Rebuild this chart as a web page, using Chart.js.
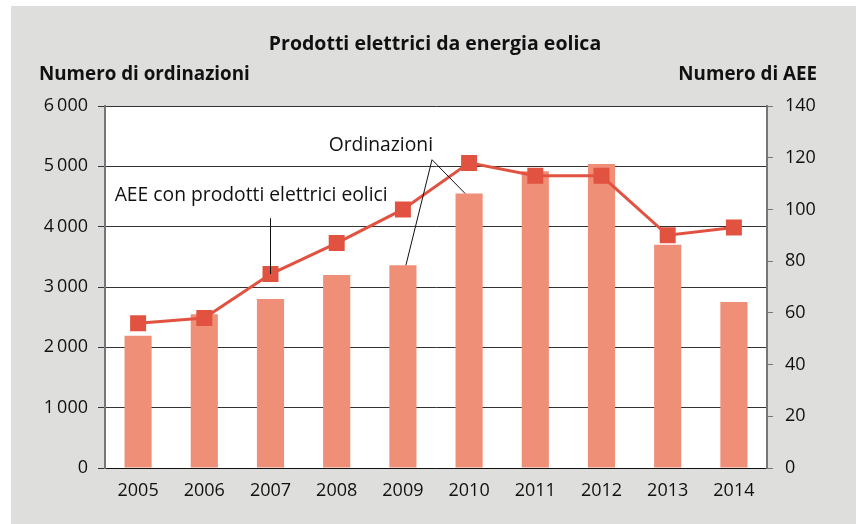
<!DOCTYPE html>
<html><head><meta charset="utf-8">
<script src="https://cdn.jsdelivr.net/npm/chart.js@4/dist/chart.umd.min.js"></script>
<style>html,body{margin:0;padding:0;background:#fff}#w{width:856px;height:524px}</style>
</head><body><div id="w"><canvas id="c" width="856" height="524"></canvas></div>
<script>
const years = ['2005','2006','2007','2008','2009','2010','2011','2012','2013','2014'];
const ordinazioni = [2190, 2550, 2800, 3200, 3360, 4550, 4920, 5040, 3700, 2750];
const aee = [56, 58, 75, 87, 100, 118, 113, 113, 90, 93];
const leftTicks = ['0', '1\u2009000', '2\u2009000', '3\u2009000', '4\u2009000', '5\u2009000', '6\u2009000'];
const rightTicks = ['0', '20', '40', '60', '80', '100', '120', '140'];
const titleText = 'Prodotti elettrici da energia eolica';
const leftAxisTitle = 'Numero di ordinazioni';
const rightAxisTitle = 'Numero di AEE';
const labelOrd = 'Ordinazioni';
const labelAee = 'AEE con prodotti elettrici eolici';

const FONT = '"Open Sans", sans-serif';
const BAR = '#F08F78';
const LINE = '#E25241';

const decor = {
  id: 'decor',
  beforeDraw(chart) {
    const ctx = chart.ctx, a = chart.chartArea;
    ctx.save();
    ctx.fillStyle = '#fff';
    ctx.fillRect(0, 0, chart.width, chart.height);
    ctx.fillStyle = '#DEDEDD';
    ctx.fillRect(11, 6, chart.width - 11, chart.height - 6);
    ctx.fillStyle = '#fff';
    ctx.fillRect(a.left, a.top, a.right - a.left, a.bottom - a.top);
    ctx.restore();
  },
  afterDraw(chart) {
    const ctx = chart.ctx, a = chart.chartArea;
    const x = chart.scales.x, y = chart.scales.y, y2 = chart.scales.y2;
    ctx.save();
    ctx.fillStyle = '#111';
    ctx.textBaseline = 'middle';
    ctx.font = 'bold 19.5px ' + FONT;
    ctx.textAlign = 'center';
    ctx.fillText(titleText, (a.left + a.right) / 2 - 1, 44);
    ctx.font = 'bold 18.8px ' + FONT;
    ctx.textAlign = 'left';
    ctx.fillText(leftAxisTitle, 39, 75);
    ctx.textAlign = 'right';
    ctx.fillText(rightAxisTitle, 817, 75);

    // annotations
    ctx.font = '19.3px ' + FONT;
    ctx.textAlign = 'right';
    ctx.fillText(labelOrd, x.getPixelForValue(4.5) - 3, y.getPixelForValue(5350));
    ctx.fillText(labelAee, x.getPixelForValue(3.8) - 2, y.getPixelForValue(4520));
    ctx.strokeStyle = '#111';
    ctx.lineWidth = 1;
    const jx = x.getPixelForValue(4.44), jy = y.getPixelForValue(5110);
    ctx.beginPath();
    ctx.moveTo(x.getPixelForValue(4) + 3, y.getPixelForValue(ordinazioni[4]));
    ctx.lineTo(jx, jy);
    ctx.lineTo(x.getPixelForValue(5) - 4, y.getPixelForValue(ordinazioni[5]));
    ctx.stroke();
    const ax = x.getPixelForValue(2);
    ctx.beginPath();
    ctx.moveTo(ax, y.getPixelForValue(4140));
    ctx.lineTo(ax, y2.getPixelForValue(aee[2]));
    ctx.stroke();
    ctx.restore();
  }
};

new Chart(document.getElementById('c'), {
  data: {
    labels: years,
    datasets: [
      {
        type: 'line', label: 'AEE', data: aee, yAxisID: 'y2', order: 0,
        borderColor: LINE, backgroundColor: LINE, borderWidth: 3,
        pointStyle: 'rect', pointRadius: 11.3, pointHoverRadius: 11.3,
        pointBorderWidth: 0, tension: 0
      },
      {
        type: 'bar', label: 'Ordinazioni', data: ordinazioni, yAxisID: 'y', order: 1,
        backgroundColor: BAR, borderWidth: 0,
        barPercentage: 0.41, categoryPercentage: 1
      }
    ]
  },
  options: {
    responsive: false,
    animation: false,
    devicePixelRatio: 1,
    layout: { padding: { top: 106, left: 0, right: 0, bottom: 0 } },
    plugins: { legend: { display: false }, tooltip: { enabled: false }, title: { display: false } },
    scales: {
      x: {
        grid: { display: false, drawTicks: false },
        border: { display: true, color: '#111', width: 1 },
        ticks: { color: '#111', font: { family: FONT, size: 18 }, padding: 12, maxRotation: 0 },
        afterFit(s) { s.height = 56; }
      },
      y: {
        position: 'left', min: 0, max: 6000,
        grid: { color: '#333', lineWidth: 1, tickLength: 7, drawTicks: true },
        border: { display: true, color: '#777', width: 2 },
        ticks: {
          stepSize: 1000, color: '#111', font: { family: FONT, size: 18 }, padding: 10,
          callback: (v) => leftTicks[Math.round(v / 1000)]
        },
        afterFit(s) { s.width = 105; }
      },
      y2: {
        position: 'right', min: 0, max: 140,
        grid: { drawOnChartArea: false, color: '#777', lineWidth: 1, tickLength: 6, drawTicks: true },
        border: { display: true, color: '#777', width: 2 },
        ticks: {
          stepSize: 20, color: '#111', font: { family: FONT, size: 18 }, padding: 12,
          callback: (v) => rightTicks[Math.round(v / 20)]
        },
        afterFit(s) { s.width = 89; }
      }
    }
  },
  plugins: [decor]
});
</script>
</body></html>
